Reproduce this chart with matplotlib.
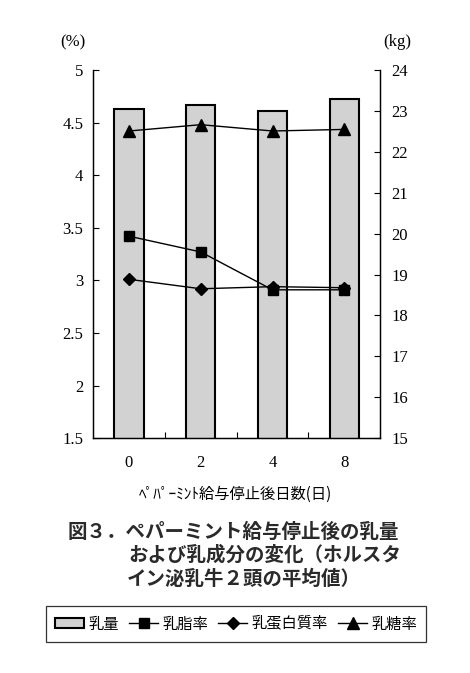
import matplotlib
matplotlib.use("Agg")
import matplotlib.pyplot as plt
from matplotlib.ticker import FixedLocator

plt.rcParams['font.family'] = ['Noto Sans CJK JP', 'DejaVu Sans']

days = ['0', '2', '4', '8']
milk_yield = [23.05, 23.15, 23.0, 23.28]      # kg (right axis)
milk_fat = [3.42, 3.27, 2.91, 2.91]           # %
milk_protein = [3.01, 2.92, 2.94, 2.93]       # %
milk_lactose = [4.42, 4.48, 4.42, 4.435]      # %
left_ticks = [1.5, 2, 2.5, 3, 3.5, 4, 4.5, 5]
left_labels = ['1.5', '2', '2.5', '3', '3.5', '4', '4.5', '5']
right_ticks = list(range(15, 25))

fig = plt.figure(figsize=(4.70, 6.73), dpi=100)
ax = fig.add_axes([0.198, 0.349, 0.611, 0.547])
ax2 = ax.twinx()
ax.set_zorder(ax2.get_zorder() + 1)
ax.patch.set_visible(False)

x = list(range(len(days)))
bars = ax2.bar(x, milk_yield, width=0.41, color='#d2d2d2', edgecolor='black',
               linewidth=1.5, label='乳量', bottom=0)
ax2.set_ylim(15, 24)

l1, = ax.plot(x, milk_fat, color='black', lw=1, marker='s', ms=7, label='乳脂率')
l2, = ax.plot(x, milk_protein, color='black', lw=1, marker='D', ms=6, label='乳蛋白質率')
l3, = ax.plot(x, milk_lactose, color='black', lw=1, marker='^', ms=8, label='乳糖率')
ax.set_ylim(1.5, 5)
ax.set_xlim(-0.5, 3.5)

serif = 'Liberation Serif'
ax.set_yticks(left_ticks)
ax.set_yticklabels(left_labels, fontfamily=serif, fontsize=12)
ax2.set_yticks(right_ticks)
ax2.set_yticklabels([str(t) for t in right_ticks], fontfamily=serif, fontsize=12)
ax.set_xticks(x)
ax.set_xticklabels(days, fontfamily=serif, fontsize=12)
ax.xaxis.set_minor_locator(FixedLocator([0.5, 1.5, 2.5]))

ax.tick_params(axis='y', direction='in', length=4, width=0.8, pad=7)
ax2.tick_params(axis='y', direction='in', length=4, width=0.8, pad=8)
ax.tick_params(axis='x', which='major', length=0, pad=12)
ax.tick_params(axis='x', which='minor', direction='in', length=4, width=0.8)

for a in (ax, ax2):
    a.spines['top'].set_visible(False)
    for s in ('left', 'right', 'bottom'):
        a.spines[s].set_linewidth(0.9)

fig.text(0.155, 0.937, '(%)', fontfamily=serif, fontsize=12, ha='center', va='center')
fig.text(0.845, 0.937, '(kg)', fontfamily=serif, fontsize=12, ha='center', va='center')

fig.text(0.5, 1 - 494 / 673, 'ﾍﾟﾊﾟｰﾐﾝﾄ給与停止後日数(日)', fontsize=11,
         ha='center', va='center')

cap_kw = dict(fontsize=14, ha='left', va='center', fontweight='bold', color='#2a2a2a')
fig.text(68 / 470, 1 - 532 / 673, '図３．ペパーミント給与停止後の乳量', **cap_kw)
fig.text(128 / 470, 1 - 555 / 673, 'および乳成分の変化（ホルスタ', **cap_kw)
fig.text(127 / 470, 1 - 579 / 673, 'イン泌乳牛２頭の平均値）', **cap_kw)

leg = fig.legend([bars, l1, l2, l3], ['乳量', '乳脂率', '乳蛋白質率', '乳糖率'],
                 loc='center', bbox_to_anchor=(236 / 470, 1 - 624 / 673), ncol=4,
                 fontsize=11, frameon=True, fancybox=False, edgecolor='black',
                 handlelength=1.9, handleheight=0.6, handletextpad=0.25,
                 columnspacing=0.7, borderpad=0.6, borderaxespad=0)
leg.get_frame().set_linewidth(0.9)

fig.savefig('out.png', dpi=100)
